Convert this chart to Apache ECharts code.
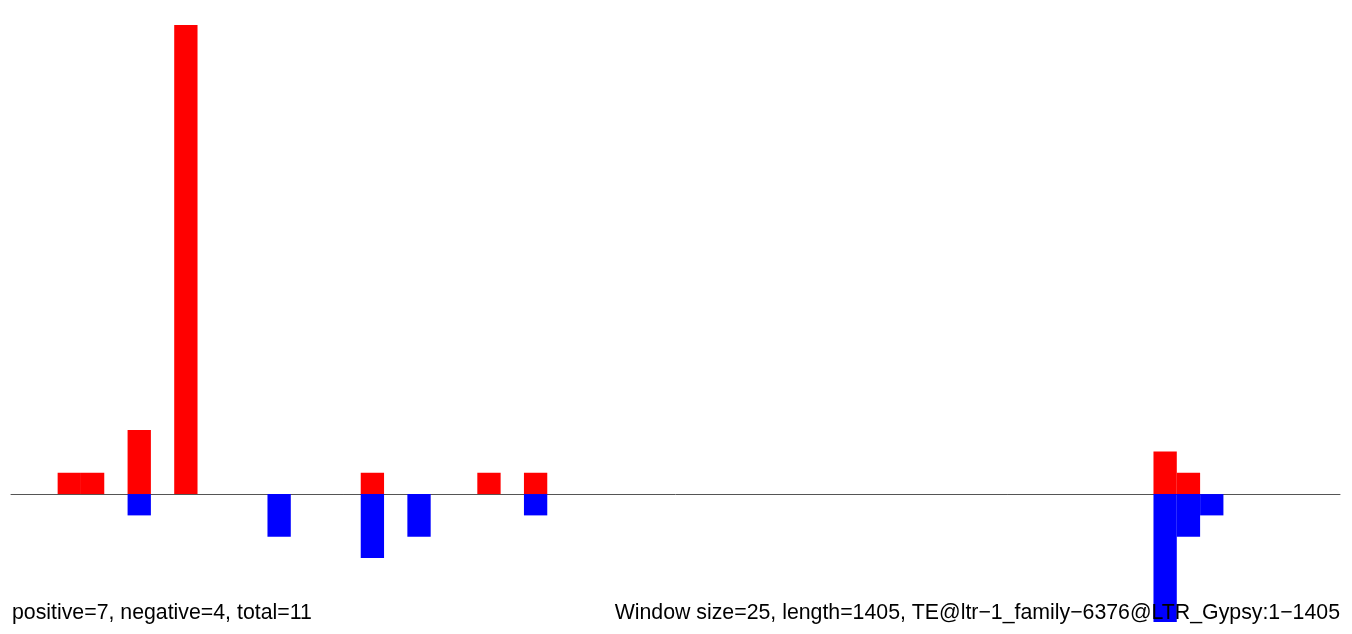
<!DOCTYPE html>
<html>
<head>
<meta charset="utf-8">
<script src="https://cdn.jsdelivr.net/npm/echarts@6/dist/echarts.min.js"></script>
<style>
html,body{margin:0;padding:0;background:#fff;}
#chart{width:1352px;height:634px;}
</style>
</head>
<body>
<div id="chart"></div>
<script>
// window size 25 bp, length 1405 -> 57 windows
var windowSize = 25;
var seqLength = 1405;
var nWindows = 57;
// counts per window (positive strand, red)
var positiveCounts = [0,0,1,1,0,3,0,22,0,0,0,0,0,0,0,1,0,0,0,0,1,0,1,0,0,0,0,0,0,0,0,0,0,0,0,0,0,0,0,0,0,0,0,0,0,0,0,0,0,2,1,0,0,0,0,0,0];
// counts per window (negative strand, blue)
var negativeCounts = [0,0,0,0,0,-1,0,0,0,0,0,-2,0,0,0,-3,0,-2,0,0,0,0,-1,0,0,0,0,0,0,0,0,0,0,0,0,0,0,0,0,0,0,0,0,0,0,0,0,0,0,-6,-2,-1,0,0,0,0,0];
var leftNote = 'positive=7, negative=4, total=11';
var rightNote = 'Window size=25, length=1405, TE@ltr\u22121_family\u22126376@LTR_Gypsy:1\u22121405';

var categories = [];
for (var i = 0; i < nWindows; i++) { categories.push(String(i * windowSize + 1)); }

var chart = echarts.init(document.getElementById('chart'), null, {renderer: 'canvas'});
var font = '"Liberation Sans", Arial, Helvetica, sans-serif';
chart.setOption({
  animation: false,
  backgroundColor: '#ffffff',
  grid: {left: 11, right: 12, top: 25, bottom: 12},
  xAxis: {
    type: 'category', data: categories, boundaryGap: true,
    axisLine: {show: true, onZero: true, lineStyle: {color: '#555555', width: 1}},
    axisTick: {show: false}, axisLabel: {show: false}, splitLine: {show: false}
  },
  yAxis: {
    type: 'value', min: -6, max: 22, show: false, splitLine: {show: false}
  },
  series: [
    {type: 'bar', name: 'positive', data: positiveCounts, stack: 's', barWidth: '100%', barCategoryGap: 0,
      itemStyle: {color: '#ff0000'}, z: 1},
    {type: 'bar', name: 'negative', data: negativeCounts, stack: 's', barWidth: '100%', barCategoryGap: 0,
      itemStyle: {color: '#0000ff'}, z: 1}
  ],
  graphic: [
    {type: 'text', left: 12, top: 603, z: 100,
      style: {text: leftNote, font: '21.3px ' + font, fill: '#000000'}},
    {type: 'text', right: 12, top: 603, z: 100,
      style: {text: rightNote, font: '21.3px ' + font, fill: '#000000'}}
  ]
});
</script>
</body>
</html>
